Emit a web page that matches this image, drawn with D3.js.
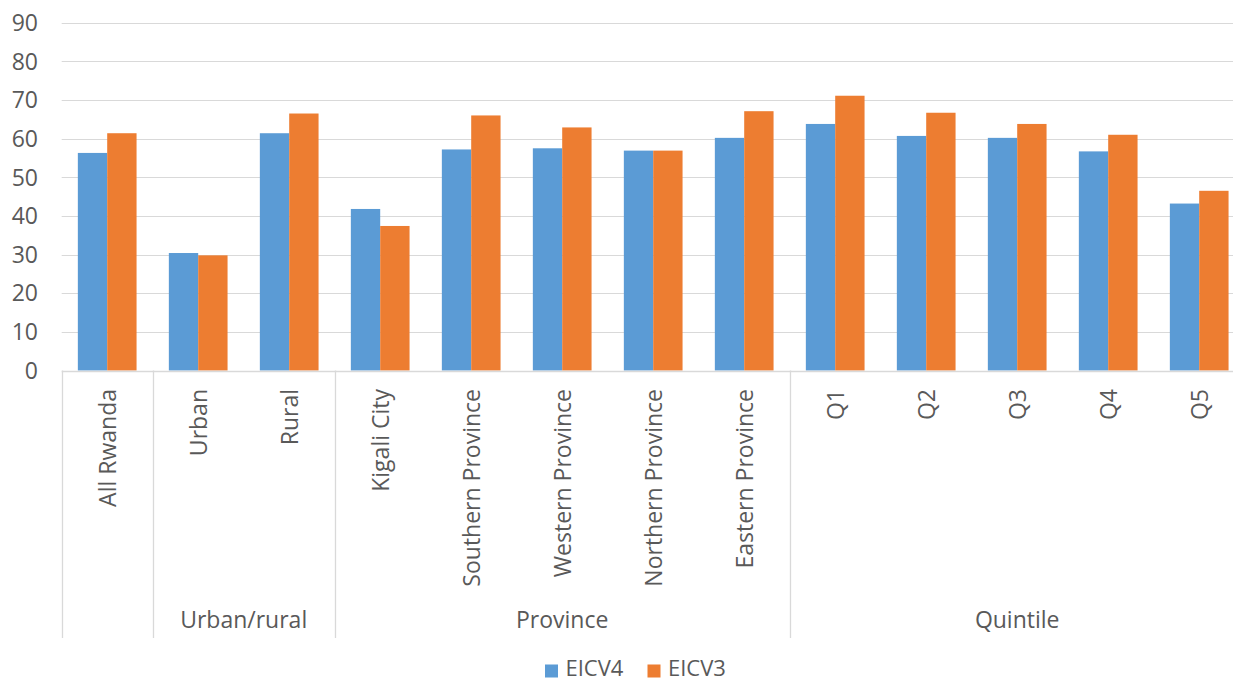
<!DOCTYPE html>
<html>
<head>
<meta charset="utf-8">
<script src="https://cdn.jsdelivr.net/npm/d3@7"></script>
<style>
  html, body { margin: 0; padding: 0; background: #fff; }
  svg { display: block; }
  text { font-family: "Open Sans", "DejaVu Sans", sans-serif; fill: #595959; }
</style>
</head>
<body>
<svg id="chart" width="1233" height="681"></svg>
<script>
const categories = ["All Rwanda", "Urban", "Rural", "Kigali City", "Southern Province", "Western Province",
  "Northern Province", "Eastern Province", "Q1", "Q2", "Q3", "Q4", "Q5"];
const seriesNames = ["EICV4", "EICV3"];
const eicv4 = [56.3, 30.4, 61.4, 41.8, 57.2, 57.5, 56.9, 60.2, 63.8, 60.7, 60.2, 56.7, 43.2];
const eicv3 = [61.4, 29.8, 66.5, 37.4, 66.0, 62.9, 56.9, 67.1, 71.1, 66.7, 63.8, 61.0, 46.5];
const groupNames = ["", "Urban/rural", "Province", "Quintile"];
const groupSizes = [1, 2, 5, 5];
const yTicks = [0, 10, 20, 30, 40, 50, 60, 70, 80, 90];

const colors = ["#5b9bd5", "#ed7d31"];
const values = [eicv4, eicv3];

const svg = d3.select("#chart");
const left = 61.7, catW = 91;
const right = left + catW * categories.length;
const y0 = 370.5, yTop = 22.7;
const groupBottom = 638;

const x0 = d3.scaleBand().domain(categories).range([left, right]).padding(0);
const x1 = d3.scaleBand().domain(seriesNames).range([0, x0.bandwidth()]).paddingInner(0).paddingOuter(0.55);
const y = d3.scaleLinear().domain([0, 90]).range([y0, yTop]);

// gridlines
svg.append("g").selectAll("line").data(yTicks.filter(t => t > 0)).join("line")
  .attr("x1", left).attr("x2", right)
  .attr("y1", d => Math.round(y(d)) + 0.5).attr("y2", d => Math.round(y(d)) + 0.5)
  .attr("stroke", "#d9d9d9").attr("stroke-width", 1);

// y axis tick labels
svg.append("g").selectAll("text").data(yTicks).join("text")
  .attr("x", 38).attr("y", d => y(d)).attr("dy", "0.36em")
  .attr("text-anchor", "end").style("font-size", "23px")
  .text(d => d);

// bars
const barG = svg.append("g");
seriesNames.forEach((s, si) => {
  barG.append("g").selectAll("rect").data(categories).join("rect")
    .attr("x", c => x0(c) + x1(s))
    .attr("width", x1.bandwidth())
    .attr("y", (c, i) => y(values[si][i]))
    .attr("height", (c, i) => y(0) - y(values[si][i]))
    .attr("fill", colors[si]);
});

// baseline
svg.append("line").attr("x1", left).attr("x2", right)
  .attr("y1", Math.round(y0) + 0.5).attr("y2", Math.round(y0) + 0.5)
  .attr("stroke", "#d9d9d9").attr("stroke-width", 1.3);

// group separators and labels
let idx = 0;
const sepX = [left];
const groupCenters = [];
groupSizes.forEach((n, gi) => {
  const start = x0(categories[idx]);
  const end = start + n * catW;
  groupCenters.push((start + end) / 2);
  idx += n;
  if (idx < categories.length) sepX.push(end);
});
svg.append("g").selectAll("line").data(sepX).join("line")
  .attr("x1", d => Math.round(d) + 0.5).attr("x2", d => Math.round(d) + 0.5)
  .attr("y1", y0).attr("y2", groupBottom)
  .attr("stroke", "#d9d9d9").attr("stroke-width", 1.3);

svg.append("g").selectAll("text").data(groupNames).join("text")
  .attr("x", (d, i) => groupCenters[i]).attr("y", 628)
  .attr("text-anchor", "middle").style("font-size", "23px")
  .text(d => d);

// category labels (rotated)
svg.append("g").selectAll("text").data(categories).join("text")
  .attr("transform", c => `translate(${x0(c) + catW / 2},389) rotate(-90)`)
  .attr("dy", "0.4em")
  .attr("text-anchor", "end").style("font-size", "23px")
  .text(c => c);

// legend
const legendItems = [{ x: 545, name: seriesNames[0], color: colors[0] }, { x: 647.5, name: seriesNames[1], color: colors[1] }];
const lg = svg.append("g");
legendItems.forEach(it => {
  lg.append("rect").attr("x", it.x).attr("y", 664.5).attr("width", 13).attr("height", 13).attr("fill", it.color);
  lg.append("text").attr("x", it.x + 20.5).attr("y", 676).style("font-size", "22px").text(it.name);
});
</script>
</body>
</html>
